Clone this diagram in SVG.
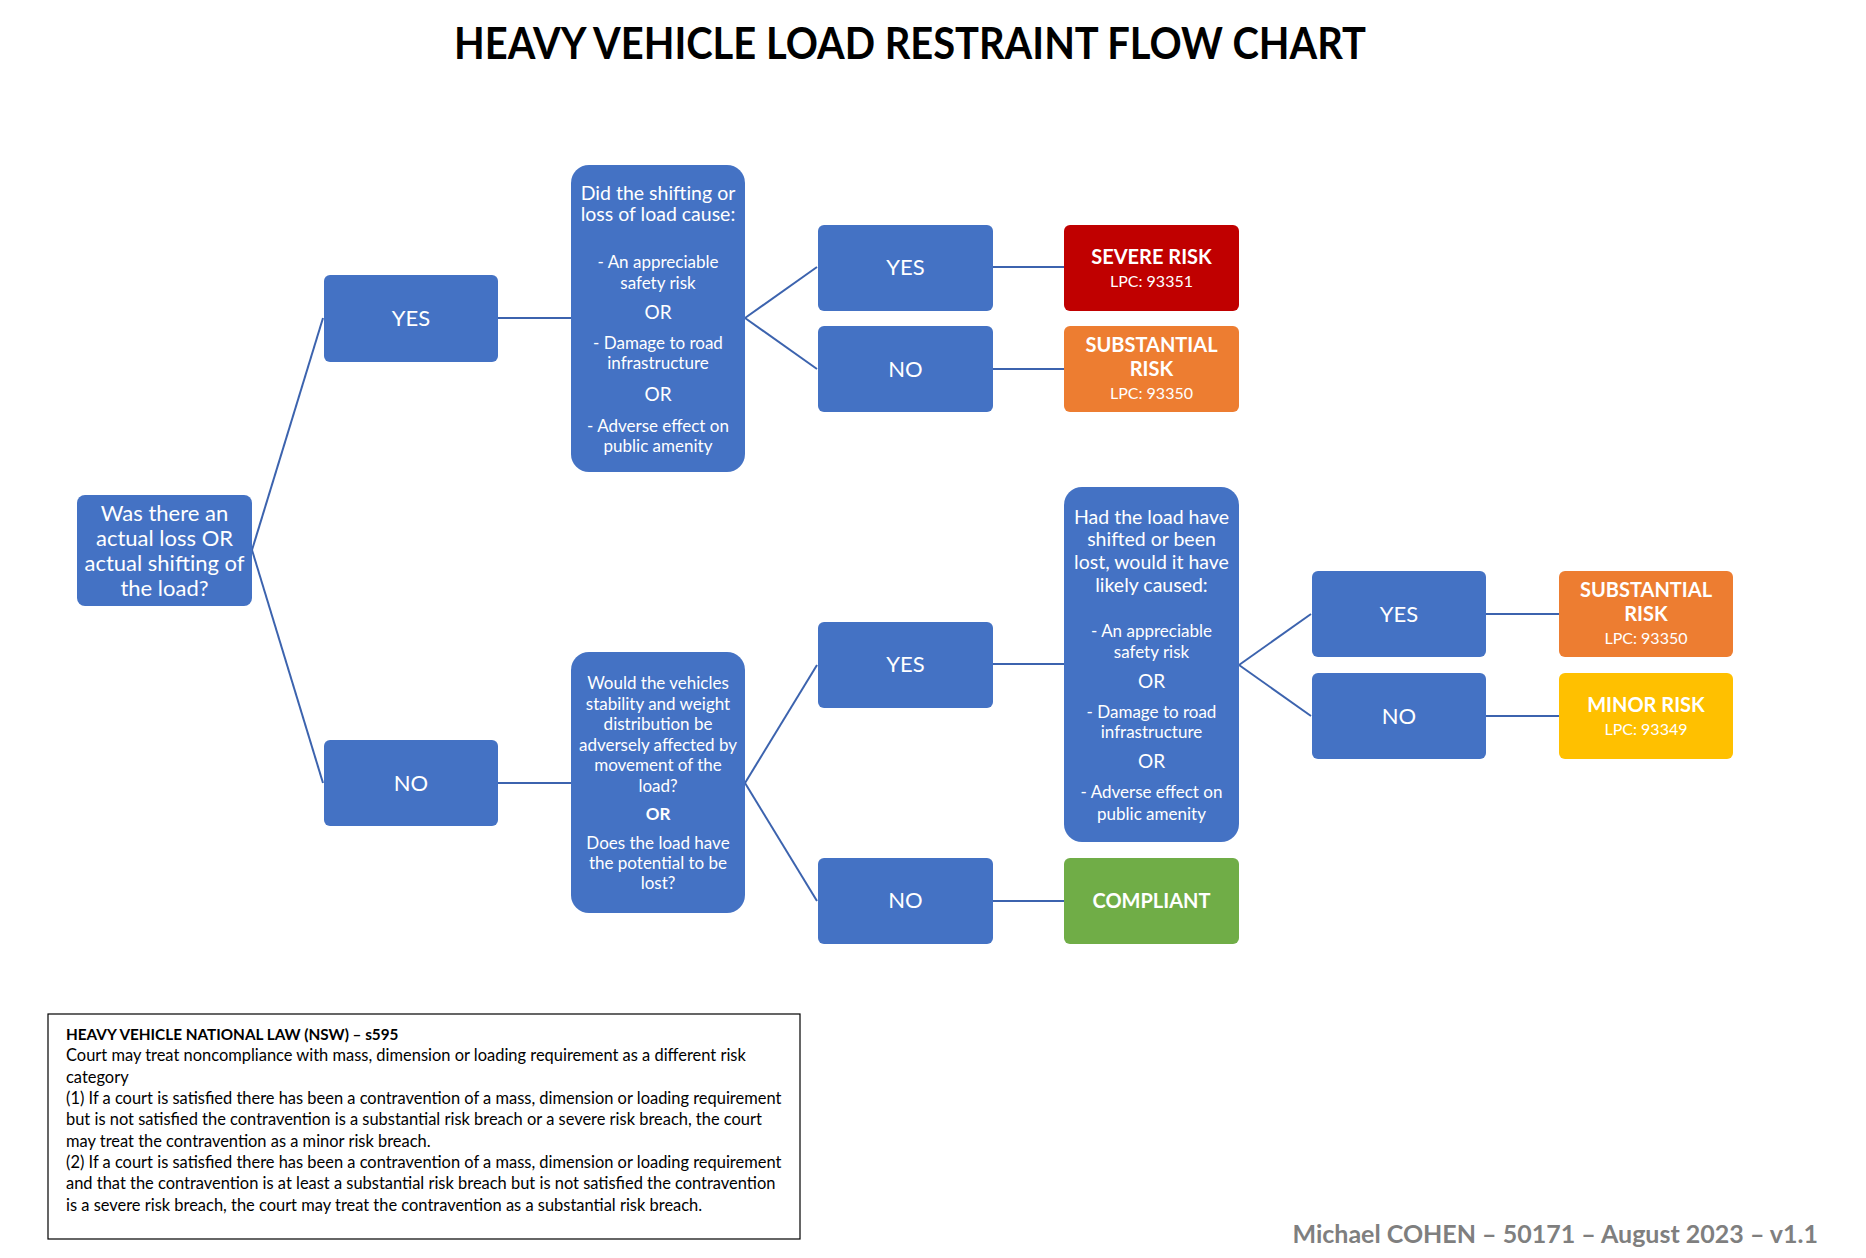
<svg xmlns="http://www.w3.org/2000/svg" width="1866" height="1258" viewBox="0 0 1866 1258">
<style>
  .box{fill:#4472C4}
  .t{fill:#fff;font-family:Lato,"Liberation Sans",sans-serif;text-anchor:middle}
  .b{font-weight:bold}
  .s22{font-size:22px}
  .s20{font-size:20px}
  .h{font-size:19.5px}
  .i{font-size:17px}
  .or{font-size:19px}
  .lpc{font-size:16px}
  .conn line{stroke:#3C63AE;stroke-width:2}
  .legal{font-family:Lato,"Liberation Sans",sans-serif;font-size:16.45px;fill:#000}
</style>
<rect width="1866" height="1258" fill="#fff"/>
<text x="910" y="59" font-family="Lato,'Liberation Sans',sans-serif" font-weight="bold" font-size="44" text-anchor="middle" textLength="912" lengthAdjust="spacingAndGlyphs">HEAVY VEHICLE LOAD RESTRAINT FLOW CHART</text>

<g id="connectors" class="conn">
  <line x1="252" y1="550" x2="323" y2="318"/>
  <line x1="252" y1="550" x2="323" y2="783"/>
  <line x1="498" y1="318" x2="571" y2="318"/>
  <line x1="498" y1="783" x2="571" y2="783"/>
  <line x1="745" y1="318" x2="817" y2="267"/>
  <line x1="745" y1="318" x2="817" y2="369"/>
  <line x1="993" y1="267" x2="1064" y2="267"/>
  <line x1="993" y1="369" x2="1064" y2="369"/>
  <line x1="745" y1="783" x2="817" y2="665"/>
  <line x1="745" y1="783" x2="817" y2="901"/>
  <line x1="993" y1="664" x2="1064" y2="664"/>
  <line x1="993" y1="901" x2="1064" y2="901"/>
  <line x1="1239" y1="665" x2="1311" y2="614"/>
  <line x1="1239" y1="665" x2="1311" y2="716"/>
  <line x1="1486" y1="614" x2="1559" y2="614"/>
  <line x1="1486" y1="716" x2="1559" y2="716"/>
</g>

<g id="root">
  <rect class="box" x="77" y="495" width="175" height="111" rx="8"/>
  <text class="t s22"><tspan x="164.5" y="520.5">Was there an</tspan><tspan x="164.5" y="545.5">actual loss OR</tspan><tspan x="164.5" y="570.5">actual shifting of</tspan><tspan x="164.5" y="595.5">the load?</tspan></text>
</g>

<g id="yes1">
  <rect class="box" x="324" y="275" width="174" height="87" rx="6"/>
  <text class="t s22" x="411" y="326">YES</text>
</g>
<g id="no1">
  <rect class="box" x="324" y="740" width="174" height="86" rx="6"/>
  <text class="t s22" x="411" y="791">NO</text>
</g>

<g id="q1">
  <rect class="box" x="571" y="165" width="174" height="307" rx="18"/>
  <text class="t h"><tspan x="658" y="200">Did the shifting or</tspan><tspan x="658" y="221">loss of load cause:</tspan></text>
  <text class="t i"><tspan x="658" y="268">- An appreciable</tspan><tspan x="658" y="289">safety risk</tspan></text>
  <text class="t or" x="658" y="319">OR</text>
  <text class="t i"><tspan x="658" y="349">- Damage to road</tspan><tspan x="658" y="369">infrastructure</tspan></text>
  <text class="t or" x="658" y="401">OR</text>
  <text class="t i"><tspan x="658" y="432">- Adverse effect on</tspan><tspan x="658" y="452">public amenity</tspan></text>
</g>

<g id="yes2">
  <rect class="box" x="818" y="225" width="175" height="86" rx="6"/>
  <text class="t s22" x="905.5" y="275">YES</text>
</g>
<g id="no2">
  <rect class="box" x="818" y="326" width="175" height="86" rx="6"/>
  <text class="t s22" x="905.5" y="377">NO</text>
</g>

<g id="severe">
  <rect x="1064" y="225" width="175" height="86" rx="6" fill="#C00000"/>
  <text class="t b s20" x="1151.5" y="264">SEVERE RISK</text>
  <text class="t lpc" x="1151.5" y="287">LPC: 93351</text>
</g>
<g id="substantial1">
  <rect x="1064" y="326" width="175" height="86" rx="6" fill="#ED7D31"/>
  <text class="t b s20"><tspan x="1151.5" y="352">SUBSTANTIAL</tspan><tspan x="1151.5" y="376">RISK</tspan></text>
  <text class="t lpc" x="1151.5" y="399">LPC: 93350</text>
</g>

<g id="q2">
  <rect class="box" x="571" y="652" width="174" height="261" rx="18"/>
  <text class="t i"><tspan x="658" y="689">Would the vehicles</tspan><tspan x="658" y="709.5">stability and weight</tspan><tspan x="658" y="730">distribution be</tspan><tspan x="658" y="750.5">adversely affected by</tspan><tspan x="658" y="771">movement of the</tspan><tspan x="658" y="791.5">load?</tspan></text>
  <text class="t b i" x="658" y="820">OR</text>
  <text class="t i"><tspan x="658" y="849">Does the load have</tspan><tspan x="658" y="869">the potential to be</tspan><tspan x="658" y="889">lost?</tspan></text>
</g>

<g id="yes3">
  <rect class="box" x="818" y="622" width="175" height="86" rx="6"/>
  <text class="t s22" x="905.5" y="672">YES</text>
</g>
<g id="no3">
  <rect class="box" x="818" y="858" width="175" height="86" rx="6"/>
  <text class="t s22" x="905.5" y="908">NO</text>
</g>

<g id="q3">
  <rect class="box" x="1064" y="487" width="175" height="355" rx="18"/>
  <text class="t h"><tspan x="1151.5" y="524">Had the load have</tspan><tspan x="1151.5" y="546">shifted or been</tspan><tspan x="1151.5" y="569">lost, would it have</tspan><tspan x="1151.5" y="592">likely caused:</tspan></text>
  <text class="t i"><tspan x="1151.5" y="637">- An appreciable</tspan><tspan x="1151.5" y="658">safety risk</tspan></text>
  <text class="t or" x="1151.5" y="688">OR</text>
  <text class="t i"><tspan x="1151.5" y="718">- Damage to road</tspan><tspan x="1151.5" y="738">infrastructure</tspan></text>
  <text class="t or" x="1151.5" y="768">OR</text>
  <text class="t i"><tspan x="1151.5" y="798">- Adverse effect on</tspan><tspan x="1151.5" y="820">public amenity</tspan></text>
</g>

<g id="compliant">
  <rect x="1064" y="858" width="175" height="86" rx="6" fill="#70AD47"/>
  <text class="t b s20" x="1151.5" y="908">COMPLIANT</text>
</g>

<g id="yes4">
  <rect class="box" x="1312" y="571" width="174" height="86" rx="6"/>
  <text class="t s22" x="1399" y="622">YES</text>
</g>
<g id="no4">
  <rect class="box" x="1312" y="673" width="174" height="86" rx="6"/>
  <text class="t s22" x="1399" y="724">NO</text>
</g>

<g id="substantial2">
  <rect x="1559" y="571" width="174" height="86" rx="6" fill="#ED7D31"/>
  <text class="t b s20"><tspan x="1646" y="597">SUBSTANTIAL</tspan><tspan x="1646" y="621">RISK</tspan></text>
  <text class="t lpc" x="1646" y="644">LPC: 93350</text>
</g>
<g id="minor">
  <rect x="1559" y="673" width="174" height="86" rx="6" fill="#FFC000"/>
  <text class="t b s20" x="1646" y="712">MINOR RISK</text>
  <text class="t lpc" x="1646" y="735">LPC: 93349</text>
</g>

<g id="legal">
  <rect x="48" y="1014" width="752" height="225" fill="#fff" stroke="#000" stroke-width="1.2"/>
  <text class="legal"><tspan x="66" y="1040" font-weight="bold" font-size="15.3">HEAVY VEHICLE NATIONAL LAW (NSW) – s595</tspan><tspan x="66" y="1061">Court may treat noncompliance with mass, dimension or loading requirement as a different risk</tspan><tspan x="66" y="1082.5">category</tspan><tspan x="66" y="1104">(1) If a court is satisfied there has been a contravention of a mass, dimension or loading requirement</tspan><tspan x="66" y="1125">but is not satisfied the contravention is a substantial risk breach or a severe risk breach, the court</tspan><tspan x="66" y="1146.5">may treat the contravention as a minor risk breach.</tspan><tspan x="66" y="1168">(2) If a court is satisfied there has been a contravention of a mass, dimension or loading requirement</tspan><tspan x="66" y="1189">and that the contravention is at least a substantial risk breach but is not satisfied the contravention</tspan><tspan x="66" y="1210.5">is a severe risk breach, the court may treat the contravention as a substantial risk breach.</tspan></text>
</g>

<text x="1818" y="1243" font-family="Lato,'Liberation Sans',sans-serif" font-weight="bold" font-size="25" fill="#7F7F7F" text-anchor="end">Michael COHEN – 50171 – August 2023 – v1.1</text>
</svg>
